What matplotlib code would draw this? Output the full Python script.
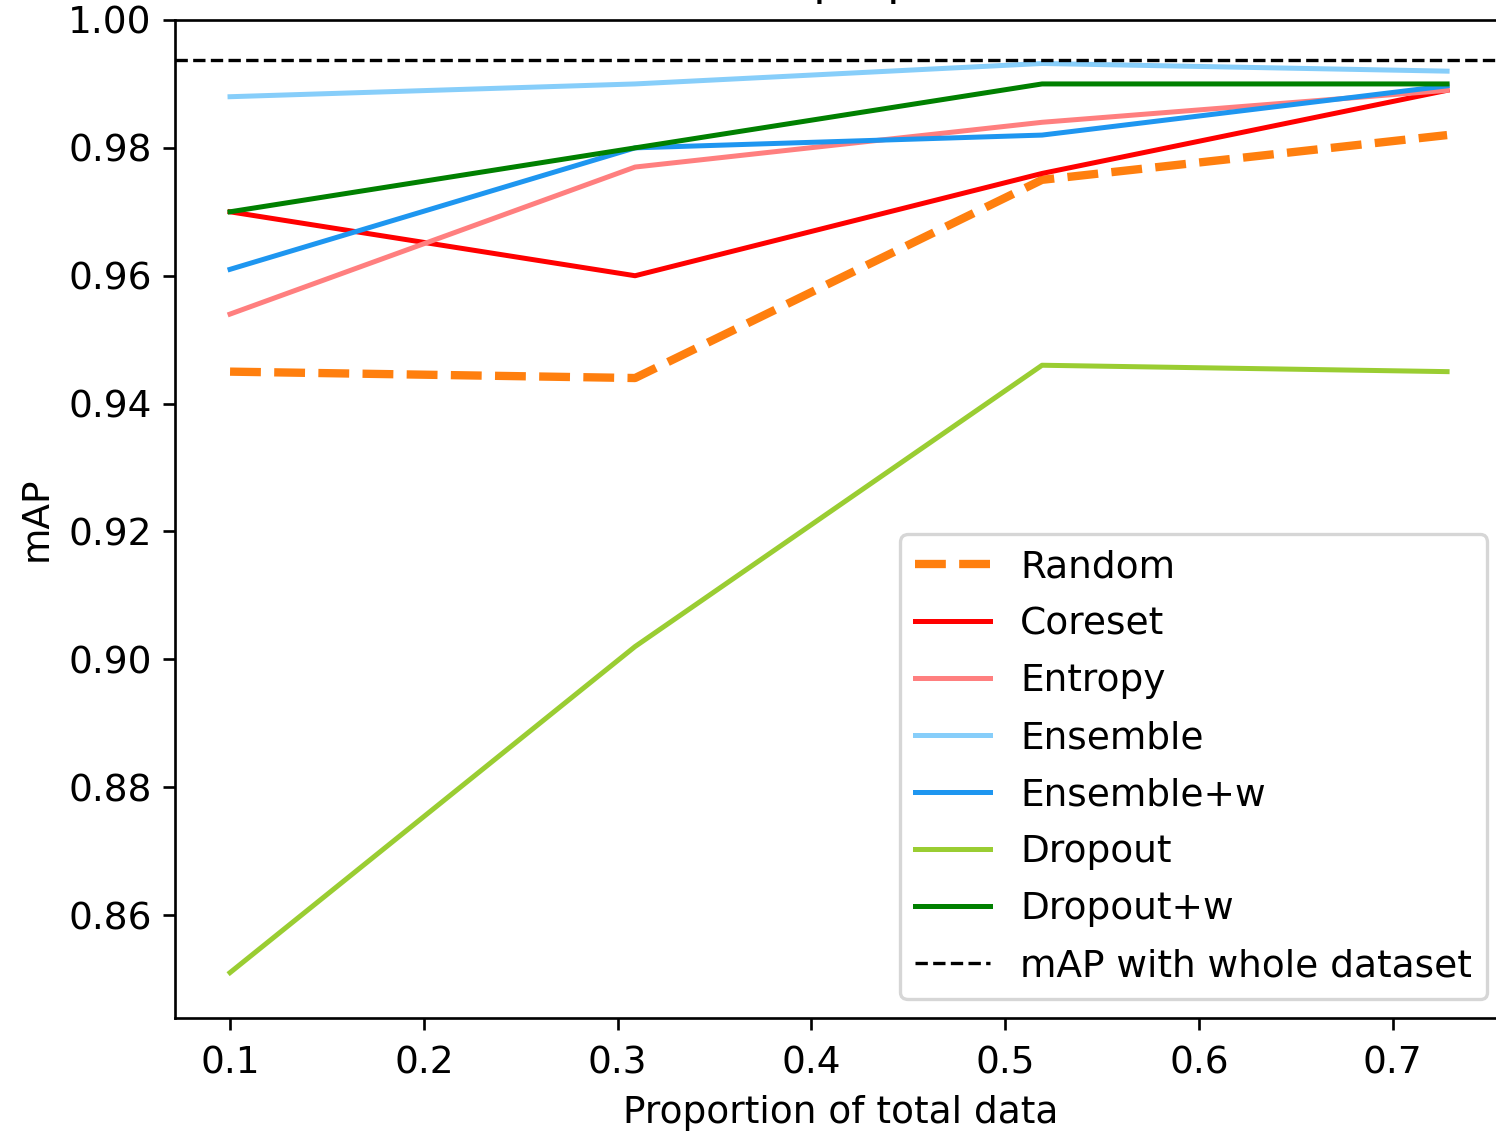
import matplotlib
matplotlib.use("Agg")
import matplotlib.pyplot as plt

# proportion of the training data used
PROPORTIONS = [0.1, 0.309, 0.519, 0.728]

RANDOM = [0.945, 0.944, 0.975, 0.982]
CORESET = [0.970, 0.960, 0.976, 0.989]
ENTROPY = [0.954, 0.977, 0.984, 0.989]
ENSEMBLE = [0.988, 0.990, 0.9932, 0.992]
ENSEMBLE_W = [0.961, 0.980, 0.982, 0.9897]
DROPOUT = [0.851, 0.902, 0.946, 0.945]
DROPOUT_W = [0.970, 0.980, 0.990, 0.990]
MAP_WHOLE = 0.9938

DPI = 240
plt.rcParams["font.size"] = 11.25

fig = plt.figure(figsize=(1496 / DPI, 1132 / DPI), dpi=DPI)
# axes run off the right edge, as in the (cropped) reference
ax = fig.add_axes([175 / 1496, 114 / 1132, 1331 / 1496, 998 / 1132])

ax.plot(PROPORTIONS, RANDOM, "--", color="tab:orange", lw=2.5, label="Random")
ax.plot(PROPORTIONS, CORESET, color="red", lw=1.5, label="Coreset")
ax.plot(PROPORTIONS, ENTROPY, color="#ff7f7f", lw=1.5, label="Entropy")
ax.plot(PROPORTIONS, ENSEMBLE, color="lightskyblue", lw=1.5, label="Ensemble")
ax.plot(PROPORTIONS, ENSEMBLE_W, color="#1e96f0", lw=1.5, label="Ensemble+w")
ax.plot(PROPORTIONS, DROPOUT, color="yellowgreen", lw=1.5, label="Dropout")
ax.plot(PROPORTIONS, DROPOUT_W, color="green", lw=1.5, label="Dropout+w")
ax.axhline(MAP_WHOLE, color="black", ls="--", lw=1, label="mAP with whole dataset")

ax.set_xlim(0.0716, 0.7584)
ax.set_ylim(0.8439, 1.0)
ax.set_xticks([0.1, 0.2, 0.3, 0.4, 0.5, 0.6, 0.7])
ax.set_yticks([0.86, 0.88, 0.90, 0.92, 0.94, 0.96, 0.98, 1.00])
ax.tick_params(axis="x", pad=4.8)

ax.set_title("mAP vs proportion", pad=7.5)
ax.set_xlabel("Proportion of total data")
ax.set_ylabel("mAP")
ax.legend(loc="lower right", labelspacing=0.56)

fig.savefig("out.png", dpi=DPI)
